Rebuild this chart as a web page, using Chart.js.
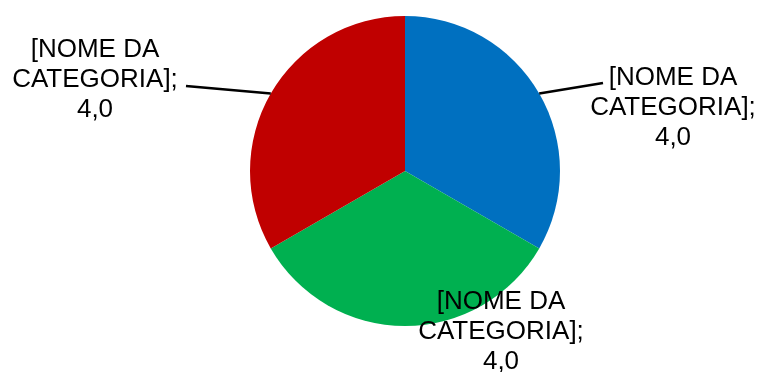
<!DOCTYPE html>
<html>
<head>
<meta charset="utf-8">
<script src="https://cdn.jsdelivr.net/npm/chart.js@4/dist/chart.umd.min.js"></script>
<style>
    html, body {
        margin: 0;
        padding: 0;
        background: #ffffff;
    }
    #wrap {
        width: 759px;
        height: 372px;
        position: relative;
    }
</style>
</head>
<body>
<div id="wrap">
    <canvas id="pieChart"></canvas>
</div>
<script>

const categories = [
    "[NOME DA CATEGORIA]",
    "[NOME DA CATEGORIA]",
    "[NOME DA CATEGORIA]"
];

const values = [
    4.0,
    4.0,
    4.0
];

const colors = [
    "#0070C0",
    "#00B050",
    "#C00000"
];

/*
 * Label layout: offset of label centre from pie centre,
 * and whether a leader line is drawn to it
 */

const labelLayout = [
    { dx: 268, dy: -63, lineTo: { dx: 198, dy: -88 } },
    { dx: 96, dy: 161, lineTo: null },
    { dx: -310, dy: -91, lineTo: { dx: -219, dy: -85 } }
];

const pieLabels = {

    id: "pieLabels",

    afterDatasetsDraw(chart) {

        const ctx = chart.ctx;
        const meta = chart.getDatasetMeta(0);

        ctx.save();

        ctx.font = "26px 'Liberation Sans', Arial, sans-serif";
        ctx.fillStyle = "#000000";
        ctx.textAlign = "center";
        ctx.textBaseline = "middle";

        meta.data.forEach((arc, i) => {

            const p = arc.getProps(
                ["x", "y", "startAngle", "endAngle", "outerRadius"],
                true
            );

            const mid = (p.startAngle + p.endAngle) / 2;
            const layout = labelLayout[i];

            if (layout.lineTo) {

                ctx.beginPath();
                ctx.strokeStyle = "#000000";
                ctx.lineWidth = 2.5;
                ctx.moveTo(
                    p.x + Math.cos(mid) * p.outerRadius,
                    p.y + Math.sin(mid) * p.outerRadius
                );
                ctx.lineTo(
                    p.x + layout.lineTo.dx,
                    p.y + layout.lineTo.dy
                );
                ctx.stroke();

            }

            const words = categories[i].split(" ");

            const lines = [
                words.slice(0, 2).join(" "),
                words.slice(2).join(" ") + ";",
                values[i].toFixed(1).replace(".", ",")
            ];

            const lineHeight = 30;
            const cx = p.x + layout.dx;
            const cy = p.y + layout.dy;

            lines.forEach((line, k) => {

                ctx.fillText(
                    line,
                    cx,
                    cy + (k - 1) * lineHeight
                );

            });

        });

        ctx.restore();

    }

};

new Chart(

    document.getElementById("pieChart"),

    {

        type: "pie",

        data: {

            labels: categories,

            datasets: [

                {

                    data: values,

                    backgroundColor: colors,

                    borderWidth: 0,

                    hoverOffset: 0

                }

            ]

        },

        options: {

            responsive: true,

            maintainAspectRatio: false,

            animation: false,

            layout: {

                padding: {
                    left: 250,
                    right: 199,
                    top: 16,
                    bottom: 46
                }

            },

            plugins: {

                legend: {
                    display: false
                },

                tooltip: {
                    enabled: false
                }

            }

        },

        plugins: [pieLabels]

    }

);

</script>
</body>
</html>
